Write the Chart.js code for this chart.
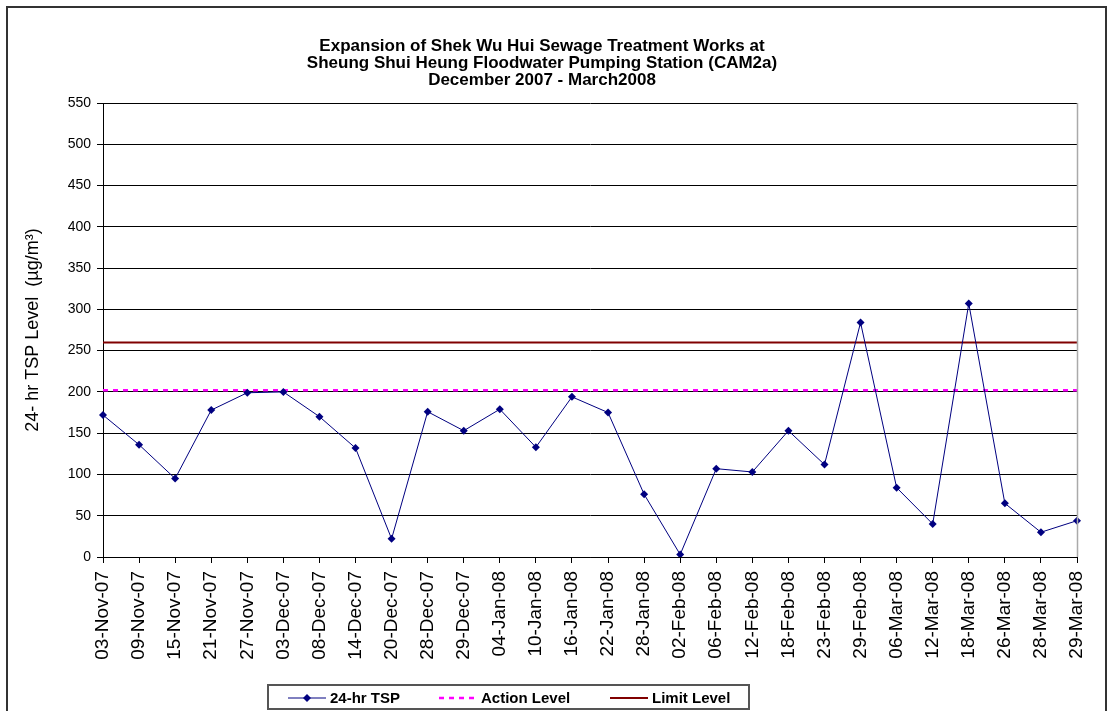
<!DOCTYPE html>
<html>
<head>
<meta charset="utf-8">
<script src="https://cdn.jsdelivr.net/npm/chart.js@4/dist/chart.umd.min.js"></script>
<style>
  html, body { margin: 0; padding: 0; background: #fff; }
  #wrap { width: 1108px; height: 711px; }
</style>
</head>
<body>
<div id="wrap"><canvas id="tspChart" width="1108" height="711"></canvas></div>
<script>
const categories = ["03-Nov-07","09-Nov-07","15-Nov-07","21-Nov-07","27-Nov-07","03-Dec-07","08-Dec-07","14-Dec-07","20-Dec-07","28-Dec-07","29-Dec-07","04-Jan-08","10-Jan-08","16-Jan-08","22-Jan-08","28-Jan-08","02-Feb-08","06-Feb-08","12-Feb-08","18-Feb-08","23-Feb-08","29-Feb-08","06-Mar-08","12-Mar-08","18-Mar-08","26-Mar-08","28-Mar-08","29-Mar-08"];
const tspValues = [172, 136, 95, 178, 199, 200, 170, 132, 22, 176, 153, 179, 133, 194, 175, 76, 3, 107, 103, 153, 112, 284, 84, 40, 307, 65, 30, 44];
const actionLevel = 202;
const limitLevel = 260;
const yMin = 0, yMax = 550, yStep = 50;

const FONT = "'Liberation Sans', Arial, sans-serif";

// white background + outer frame + right edge of plot
const framePlugin = {
  id: 'frame',
  beforeDraw(chart) {
    const ctx = chart.ctx;
    ctx.save();
    ctx.fillStyle = '#fff';
    ctx.fillRect(0, 0, chart.width, chart.height);
    ctx.strokeStyle = '#333';
    ctx.lineWidth = 2;
    ctx.strokeRect(7, 7, 1099, 712);
    ctx.restore();
  },
  afterDatasetsDraw(chart) {
    const {ctx, chartArea} = chart;
    ctx.save();
    ctx.strokeStyle = '#aaa';
    ctx.lineWidth = 1.5;
    ctx.beginPath();
    ctx.moveTo(chartArea.right + 0.5, chartArea.top);
    ctx.lineTo(chartArea.right + 0.5, chartArea.bottom);
    ctx.stroke();
    ctx.restore();
  }
};

// boxed legend at the bottom, like the excel one
const boxLegend = {
  id: 'boxLegend',
  afterDraw(chart) {
    const ctx = chart.ctx;
    const ds = chart.data.datasets;
    ctx.save();
    ctx.strokeStyle = '#555';
    ctx.lineWidth = 2;
    ctx.strokeRect(268, 685, 481, 24);
    const cy = 698;
    const items = [{x: 288, i: 0}, {x: 439, i: 1}, {x: 610, i: 2}];
    ctx.font = 'bold 15px ' + FONT;
    ctx.textBaseline = 'middle';
    items.forEach(it => {
      const d = ds[it.i];
      ctx.strokeStyle = d.borderColor;
      ctx.lineWidth = d.borderWidth;
      ctx.setLineDash(d.borderDash || []);
      ctx.beginPath();
      ctx.moveTo(it.x, cy);
      ctx.lineTo(it.x + 38, cy);
      ctx.stroke();
      ctx.setLineDash([]);
      if (d.pointRadius) {
        ctx.fillStyle = d.pointBackgroundColor;
        const r = d.pointRadius, cx = it.x + 19;
        ctx.beginPath();
        ctx.moveTo(cx, cy - r); ctx.lineTo(cx + r, cy); ctx.lineTo(cx, cy + r); ctx.lineTo(cx - r, cy);
        ctx.closePath();
        ctx.fill();
      }
      ctx.fillStyle = '#000';
      ctx.fillText(d.label, it.x + 42, cy + 1);
    });
    ctx.restore();
  }
};

new Chart('tspChart', {
  type: 'line',
  data: {
    labels: categories,
    datasets: [
      {
        label: '24-hr TSP',
        data: tspValues,
        borderColor: '#000080',
        borderWidth: 1,
        pointStyle: 'rectRot',
        pointRadius: 4,
        pointBackgroundColor: '#000080',
        pointBorderColor: '#000080',
        pointBorderWidth: 0,
        tension: 0
      },
      {
        label: 'Action Level',
        data: categories.map(() => actionLevel),
        borderColor: '#ff00ff',
        borderWidth: 2.5,
        borderDash: [5, 5],
        pointRadius: 0
      },
      {
        label: 'Limit Level',
        data: categories.map(() => limitLevel),
        borderColor: '#800000',
        borderWidth: 2,
        pointRadius: 0
      }
    ]
  },
  options: {
    responsive: false,
    animation: false,
    layout: { padding: { left: 7, right: 31, top: 7, bottom: 44 } },
    plugins: {
      legend: { display: false },
      tooltip: { enabled: false },
      title: {
        display: true,
        text: ['Expansion of Shek Wu Hui Sewage Treatment Works at',
               'Sheung Shui Heung Floodwater Pumping Station (CAM2a)',
               'December 2007 - March2008'],
        color: '#000',
        font: { family: FONT, size: 17, weight: 'bold', lineHeight: 1.0 },
        padding: { top: 31, bottom: 14 }
      }
    },
    scales: {
      x: {
        offset: false,
        grid: { drawOnChartArea: false, color: '#000', tickLength: 6 },
        border: { color: '#000', width: 1 },
        ticks: {
          color: '#000',
          font: { family: FONT, size: 19 },
          minRotation: 90,
          maxRotation: 90,
          autoSkip: false,
          padding: 8
        },
        afterFit(s) { s.height = 110; }
      },
      y: {
        min: yMin,
        max: yMax,
        grid: { color: '#000', lineWidth: 1, tickLength: 6 },
        border: { color: '#000', width: 1 },
        ticks: {
          stepSize: yStep,
          color: '#000',
          font: { family: FONT, size: 14 },
          padding: 6
        },
        title: {
          display: true,
          text: '24- hr TSP Level  (\u00b5g/m\u00b3)',
          color: '#000',
          font: { family: FONT, size: 18 },
          padding: { top: 15, bottom: 0 }
        },
        afterFit(s) { s.width = 96; }
      }
    }
  },
  plugins: [framePlugin, boxLegend]
});
</script>
</body>
</html>
